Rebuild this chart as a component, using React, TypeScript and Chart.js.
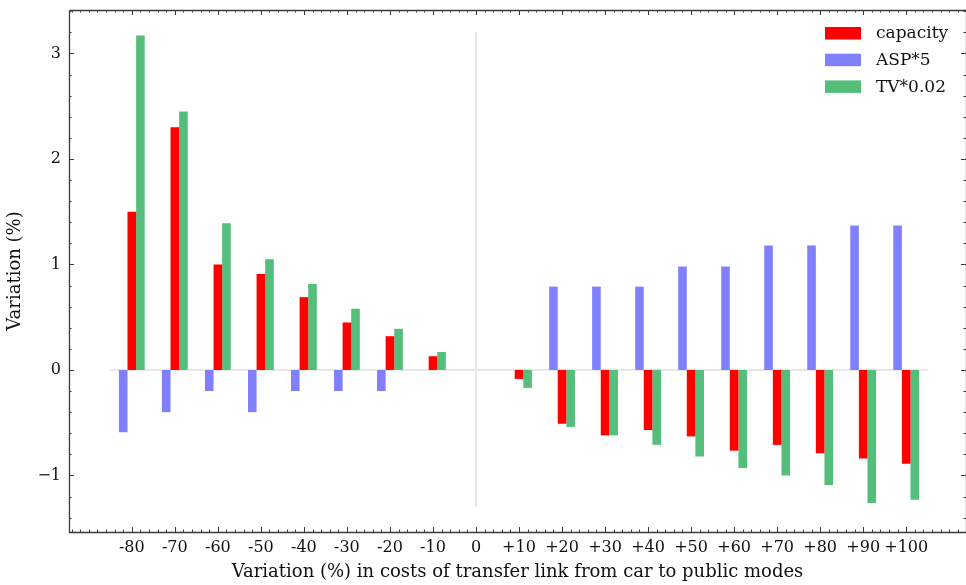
import React, { useEffect, useRef } from 'react';
import { Chart, registerables } from 'chart.js';

Chart.register(...registerables);

// ---- data ----
const categories = ['-80', '-70', '-60', '-50', '-40', '-30', '-20', '-10', '0', '+10', '+20', '+30', '+40', '+50', '+60', '+70', '+80', '+90', '+100'];
const capacity = [1.5, 2.3, 1.0, 0.91, 0.69, 0.45, 0.32, 0.13, null, -0.085, -0.51, -0.62, -0.57, -0.63, -0.765, -0.71, -0.79, -0.84, -0.89];
const asp5 = [-0.59, -0.4, -0.2, -0.4, -0.2, -0.2, -0.2, 0, null, 0, 0.79, 0.79, 0.79, 0.98, 0.98, 1.18, 1.18, 1.37, 1.37];
const tv002 = [3.17, 2.45, 1.39, 1.05, 0.815, 0.58, 0.39, 0.17, null, -0.17, -0.54, -0.62, -0.71, -0.82, -0.93, -1.0, -1.09, -1.26, -1.23];
const yTickValues = [-1, 0, 1, 2, 3];
const xRange = [-1.46, 19.39];
const yRange = [-1.536, 3.412];
const zeroLineX = [-0.5, 18.5];
const centerLineY = [-1.3, 3.2];
const centerIndex = 8;

const FONT = 'DejaVu Serif';
const RED = '#ff0000';
const BLUE = '#8080ff';
const GREEN = '#55be7a';
const AXIS = '#3a3a3a';

const toPoints = (arr: (number | null)[]) => arr.map((v, i) => ({ x: i, y: v }));

const framePlugin = {
  id: 'frameTicks',
  afterDatasetsDraw(chart: any) {
    const { ctx, chartArea, scales } = chart;
    const { left, right, top, bottom } = chartArea;
    const x = scales.x;
    const y = scales.y;
    ctx.save();
    ctx.strokeStyle = AXIS;
    ctx.lineWidth = 1.3;
    ctx.beginPath();
    ctx.moveTo(left + 0.5, top + 0.5);
    ctx.lineTo(right + 0.5, top + 0.5);
    ctx.moveTo(left + 0.5, top + 0.5);
    ctx.lineTo(left + 0.5, bottom + 0.5);
    ctx.lineTo(right + 0.5, bottom + 0.5);
    ctx.lineTo(right + 0.5, top + 0.5);
    ctx.stroke();

    ctx.lineWidth = 1;
    ctx.beginPath();
    const kx0 = Math.ceil(xRange[0] * 5);
    const kx1 = Math.floor(xRange[1] * 5);
    for (let k = kx0; k <= kx1; k++) {
      const v = k / 5;
      const major = k % 5 === 0 && v >= 0 && v < categories.length;
      const len = major ? 5 : 2.5;
      const px = Math.round(x.getPixelForValue(v)) + 0.5;
      ctx.moveTo(px, bottom);
      ctx.lineTo(px, bottom - len);
      ctx.moveTo(px, top);
      ctx.lineTo(px, top + len);
    }
    const ky0 = Math.ceil(yRange[0] * 5);
    const ky1 = Math.floor(yRange[1] * 5);
    for (let k = ky0; k <= ky1; k++) {
      const v = k / 5;
      const major = k % 5 === 0;
      const len = major ? 5 : 2.5;
      const py = Math.round(y.getPixelForValue(v)) + 0.5;
      ctx.moveTo(left, py);
      ctx.lineTo(left + len, py);
      ctx.moveTo(right, py);
      ctx.lineTo(right - len, py);
    }
    ctx.stroke();
    ctx.restore();
  },
  afterDraw(chart: any) {
    const { ctx, chartArea } = chart;
    const items = chart.data.datasets.filter((d: any) => d.showInLegend);
    ctx.save();
    ctx.font = `17px "${FONT}"`;
    ctx.textBaseline = 'middle';
    const boxX = chartArea.right - 141;
    items.forEach((d: any, i: number) => {
      const cy = chartArea.top + 23 + i * 26.7;
      ctx.fillStyle = d.backgroundColor;
      ctx.fillRect(boxX, cy - 6, 36, 12.5);
      ctx.fillStyle = '#111';
      ctx.fillText(d.label, boxX + 51, cy + 1);
    });
    ctx.restore();
  },
};

export default function App() {
  const ref = useRef<HTMLCanvasElement | null>(null);

  useEffect(() => {
    if (!ref.current) return;
    Chart.defaults.font.family = FONT;
    const chart = new Chart(ref.current, {
      type: 'bar',
      data: {
        datasets: [
          {
            type: 'line',
            label: 'zero',
            data: [{ x: zeroLineX[0], y: 0 }, { x: zeroLineX[1], y: 0 }],
            borderColor: '#e8e8e8',
            borderWidth: 2,
            pointRadius: 0,
            order: 10,
          } as any,
          {
            type: 'line',
            label: 'center',
            data: [{ x: centerIndex, y: centerLineY[0] }, { x: centerIndex, y: centerLineY[1] }],
            borderColor: '#e8e8e8',
            borderWidth: 2,
            pointRadius: 0,
            order: 11,
          } as any,
          {
            label: 'capacity',
            data: toPoints(capacity),
            backgroundColor: RED,
            order: 1,
            showInLegend: true,
          } as any,
          {
            label: 'ASP*5',
            data: toPoints(asp5),
            backgroundColor: BLUE,
            order: 0,
            showInLegend: true,
          } as any,
          {
            label: 'TV*0.02',
            data: toPoints(tv002),
            backgroundColor: GREEN,
            order: 2,
            showInLegend: true,
          } as any,
        ],
      },
      options: {
        animation: false,
        responsive: false,
        devicePixelRatio: 1,
        layout: { padding: { top: 10, right: 0, left: 0, bottom: 0 } },
        datasets: {
          bar: { categoryPercentage: 0.6, barPercentage: 1.0, borderWidth: 0 },
        },
        plugins: { legend: { display: false }, tooltip: { enabled: false } },
        scales: {
          x: {
            type: 'linear',
            min: xRange[0],
            max: xRange[1],
            offset: false,
            grid: { display: false, drawTicks: false },
            border: { display: false },
            afterBuildTicks: (scale: any) => {
              scale.ticks = categories.map((_, i) => ({ value: i }));
            },
            afterFit: (scale: any) => {
              scale.height = 53;
              scale.paddingLeft = 0;
              scale.paddingRight = 0;
            },
            ticks: {
              autoSkip: false,
              maxRotation: 0,
              minRotation: 0,
              padding: 6,
              color: '#111',
              font: { family: FONT, size: 16 },
              callback: (v: any) => categories[v] ?? '',
            },
            title: {
              display: true,
              text: 'Variation (%) in costs of transfer link from car to public modes',
              color: '#111',
              font: { family: FONT, size: 18 },
              padding: { top: 0, bottom: 2 },
            },
          },
          y: {
            type: 'linear',
            min: yRange[0],
            max: yRange[1],
            grid: { display: false, drawTicks: false },
            border: { display: false },
            afterBuildTicks: (scale: any) => {
              scale.ticks = yTickValues.map((v) => ({ value: v }));
            },
            afterFit: (scale: any) => {
              scale.width = 69;
              scale.paddingTop = 0;
              scale.paddingBottom = 0;
            },
            ticks: {
              padding: 8,
              color: '#111',
              font: { family: FONT, size: 16 },
              callback: (v: any) => (v < 0 ? '\u2212' + Math.abs(v) : String(v)),
            },
            title: {
              display: true,
              text: 'Variation (%)',
              color: '#111',
              font: { family: FONT, size: 18 },
              padding: { top: 5, bottom: 0 },
            },
          },
        },
      },
      plugins: [framePlugin],
    });
    return () => chart.destroy();
  }, []);

  return (
    <div style={{ position: 'fixed', left: 0, top: 0, width: 966, height: 585, background: '#fff' }}>
      <canvas ref={ref} width={966} height={585} />
    </div>
  );
}
